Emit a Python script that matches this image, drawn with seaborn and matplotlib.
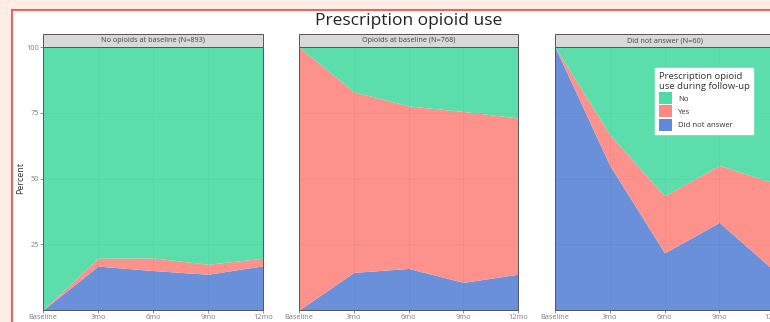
import numpy as np
import pandas as pd
import matplotlib
matplotlib.use("Agg")
import matplotlib.pyplot as plt
from matplotlib.patches import Rectangle
import seaborn as sns

# ---- data -------------------------------------------------------------
timepoints = ["Baseline", "3mo", "6mo", "9mo", "12mo"]
panels = ["No opioids at baseline (N=893)",
          "Opioids at baseline (N=768)",
          "Did not answer (N=60)"]
responses = ["No", "Yes", "Did not answer"]

no_baseline_no = [100, 80.3, 80.2, 82.6, 80.3]
no_baseline_yes = [0, 3.0, 4.8, 3.8, 2.9]
no_baseline_dna = [0, 16.7, 15.0, 13.6, 16.8]

op_baseline_no = [0, 17.0, 22.4, 24.5, 27.0]
op_baseline_yes = [100, 68.7, 61.8, 65.0, 59.4]
op_baseline_dna = [0, 14.3, 15.8, 10.5, 13.6]

dna_baseline_no = [0, 33.3, 56.6, 45.0, 51.7]
dna_baseline_yes = [0, 11.7, 21.7, 21.7, 33.3]
dna_baseline_dna = [100, 55.0, 21.7, 33.3, 15.0]

series = {
    panels[0]: (no_baseline_no, no_baseline_yes, no_baseline_dna),
    panels[1]: (op_baseline_no, op_baseline_yes, op_baseline_dna),
    panels[2]: (dna_baseline_no, dna_baseline_yes, dna_baseline_dna),
}

rows = []
for p, vals in series.items():
    for resp, v in zip(responses, vals):
        for i, t in enumerate(timepoints):
            rows.append({"panel": p, "response": resp, "time": t,
                         "t": i, "percent": v[i]})
df = pd.DataFrame(rows)

palette = {"No": "#4EDCA6", "Yes": "#FC8A82", "Did not answer": "#6088D8"}

# ---- style ------------------------------------------------------------
sns.set_theme(style="white")
plt.rcParams["font.family"] = ["Open Sans", "DejaVu Sans"]

W, H = 770, 322
TICK_GREY = "#7F7F7F"


def stacked_area(data, **kwargs):
    ax = plt.gca()
    wide = data.pivot(index="t", columns="response", values="percent")
    order = ["Did not answer", "Yes", "No"]
    ax.stackplot(wide.index.values,
                 *[wide[c].values for c in order],
                 colors=[palette[c] for c in order],
                 labels=order, alpha=0.93, linewidth=0, zorder=2)


g = sns.FacetGrid(df, col="panel", col_order=panels, sharey=True,
                  height=3, aspect=1)
g.map_dataframe(stacked_area)
fig = g.figure
fig.set_size_inches(W / 100, H / 100)
fig.set_dpi(100)
fig.patch.set_facecolor("#FDEDE4")

# white card with red outline
fig.add_artist(Rectangle((12 / W, -0.05), 1.1, 1 - 10 / H + 0.05,
                         transform=fig.transFigure, facecolor="white",
                         edgecolor="#F0625A", linewidth=1.5, zorder=0))

panel_x = [(43, 263), (299, 518), (555, 774)]
top, bottom = 47, 310
strip_h = 13

for ax, (x0, x1), name in zip(g.axes.flat, panel_x, panels):
    ax.set_position([x0 / W, 1 - bottom / H, (x1 - x0) / W,
                     (bottom - top) / H])
    ax.set_xlim(0, 4)
    ax.set_ylim(0, 100)
    ax.set_facecolor("white")
    ax.set_xticks(range(len(timepoints)))
    ax.set_xticklabels(timepoints)
    ax.set_yticks([25, 50, 75, 100])
    ax.set_axisbelow(True)
    ax.grid(True, color="#A8A8A8", linewidth=0.6, zorder=1)
    for s in ax.spines.values():
        s.set_visible(True)
        s.set_color("#555555")
        s.set_linewidth(0.7)
        s.set_zorder(4)
    ax.tick_params(axis="both", which="both", labelsize=5.3,
                   colors=TICK_GREY, length=2, width=0.6, pad=1,
                   bottom=True, left=True)
    ax.set_title("")
    ax.set_xlabel("")
    ax.set_ylabel("")
    # facet strip
    frac = strip_h / (bottom - top)
    ax.add_patch(Rectangle((0, 1), 1, frac, transform=ax.transAxes,
                           facecolor="#D9D9D9", edgecolor="#555555",
                           linewidth=0.7, clip_on=False, zorder=5))
    ax.text(0.5, 1 + frac / 2, name, transform=ax.transAxes,
            ha="center", va="center", fontsize=5.2, color="#444444",
            zorder=6)

for ax in g.axes.flat[1:]:
    ax.tick_params(axis="y", labelleft=False, left=False)

g.axes.flat[0].set_ylabel("Percent", fontsize=6.5, color="#333333",
                          labelpad=1)

fig.text(409 / W, 1 - 21 / H, "Prescription opioid use", ha="center",
         va="center", fontsize=12.5, color="#222222")

# legend inside the last panel
ax3 = g.axes.flat[2]
handles = [Rectangle((0, 0), 1, 1, facecolor=palette[r], edgecolor="none")
           for r in responses]
leg = ax3.legend(handles, responses,
                 title="Prescription opioid\nuse during follow-up",
                 loc="upper left", bbox_to_anchor=(0.438, 0.936),
                 fontsize=5.6, title_fontsize=6.8, frameon=True,
                 fancybox=False, framealpha=1, edgecolor="white",
                 handlelength=1.7, handleheight=2.0, handletextpad=0.8,
                 labelspacing=0.15, borderpad=0.5)
leg._legend_box.align = "left"
leg.get_title().set_color("#333333")
for t in leg.get_texts():
    t.set_color("#333333")
leg.set_zorder(10)

fig.savefig("out.png", dpi=100, facecolor=fig.get_facecolor())
